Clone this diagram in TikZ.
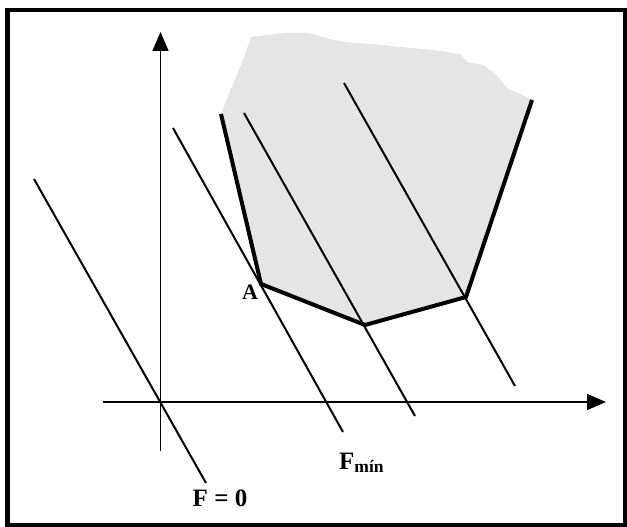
\documentclass[tikz,border=0pt]{standalone}
\usepackage{fontspec}
\setmainfont{Liberation Serif}
\usetikzlibrary{arrows.meta}
\tikzset{
  thinline/.style={line width=2pt},
  thickline/.style={line width=4pt, line join=miter},
  axis/.style={line width=1.4pt, -{Triangle[length=19pt,width=16pt]}},
  lbl/.style={font=\bfseries, inner sep=0pt},
}
\begin{document}
\begin{tikzpicture}[x=1pt,y=-1pt]
\useasboundingbox (0,0) rectangle (627,527);
\draw[line width=4.5pt] (7.25,10.25) rectangle (624.75,524.75);
% shaded region
\fill[fill=black!10] (221,114) .. controls (232,85) and (242,65) .. (251,37)
  .. controls (275,34) and (300,30) .. (317,35)
  .. controls (330,40) and (345,43) .. (373,44)
  -- (400,47) -- (433,50) -- (460,54) -- (467,62) -- (483,65) -- (490,70)
  .. controls (498,74) and (502,84) .. (507,88)
  -- (533,100) -- (466,297) -- (365,325) -- (261,284) -- cycle;
% axes
\coordinate (xs) at (103,402);
\coordinate (xe) at (606,402);
\coordinate (ys) at (160.5,451);
\coordinate (ye) at (160.5,32);
\draw[axis] (xs) -- (xe);
\draw[axis] (ys) -- (ye);
% level lines
\coordinate (a1) at (34,179);  \coordinate (b1) at (206,483);
\coordinate (a2) at (173,128); \coordinate (b2) at (343,432);
\coordinate (a3) at (244,113); \coordinate (b3) at (415,416);
\coordinate (a4) at (344,83);  \coordinate (b4) at (515,386);
\draw[thinline] (a1) -- (b1);
\draw[thinline] (a2) -- (b2);
\draw[thinline] (a3) -- (b3);
\draw[thinline] (a4) -- (b4);
% feasible boundary
\coordinate (p1) at (221,114);
\coordinate (A) at (261,284);
\coordinate (p3) at (365,325);
\coordinate (p4) at (466,297);
\coordinate (p5) at (532,100);
\draw[thickline] (p1) -- (A) -- (p3) -- (p4) -- (p5);
% labels
\node[lbl, font=\fontsize{22}{22}\selectfont\bfseries] (lA) at (250,292) {A};
\node[lbl, font=\fontsize{25}{25}\selectfont\bfseries] (lF0) at (220,498) {F = 0};
\node[lbl, font=\fontsize{25}{25}\selectfont\bfseries, anchor=base west] (lFm) at (339,469) {F\textsubscript{mín}};
\end{tikzpicture}
\end{document}
